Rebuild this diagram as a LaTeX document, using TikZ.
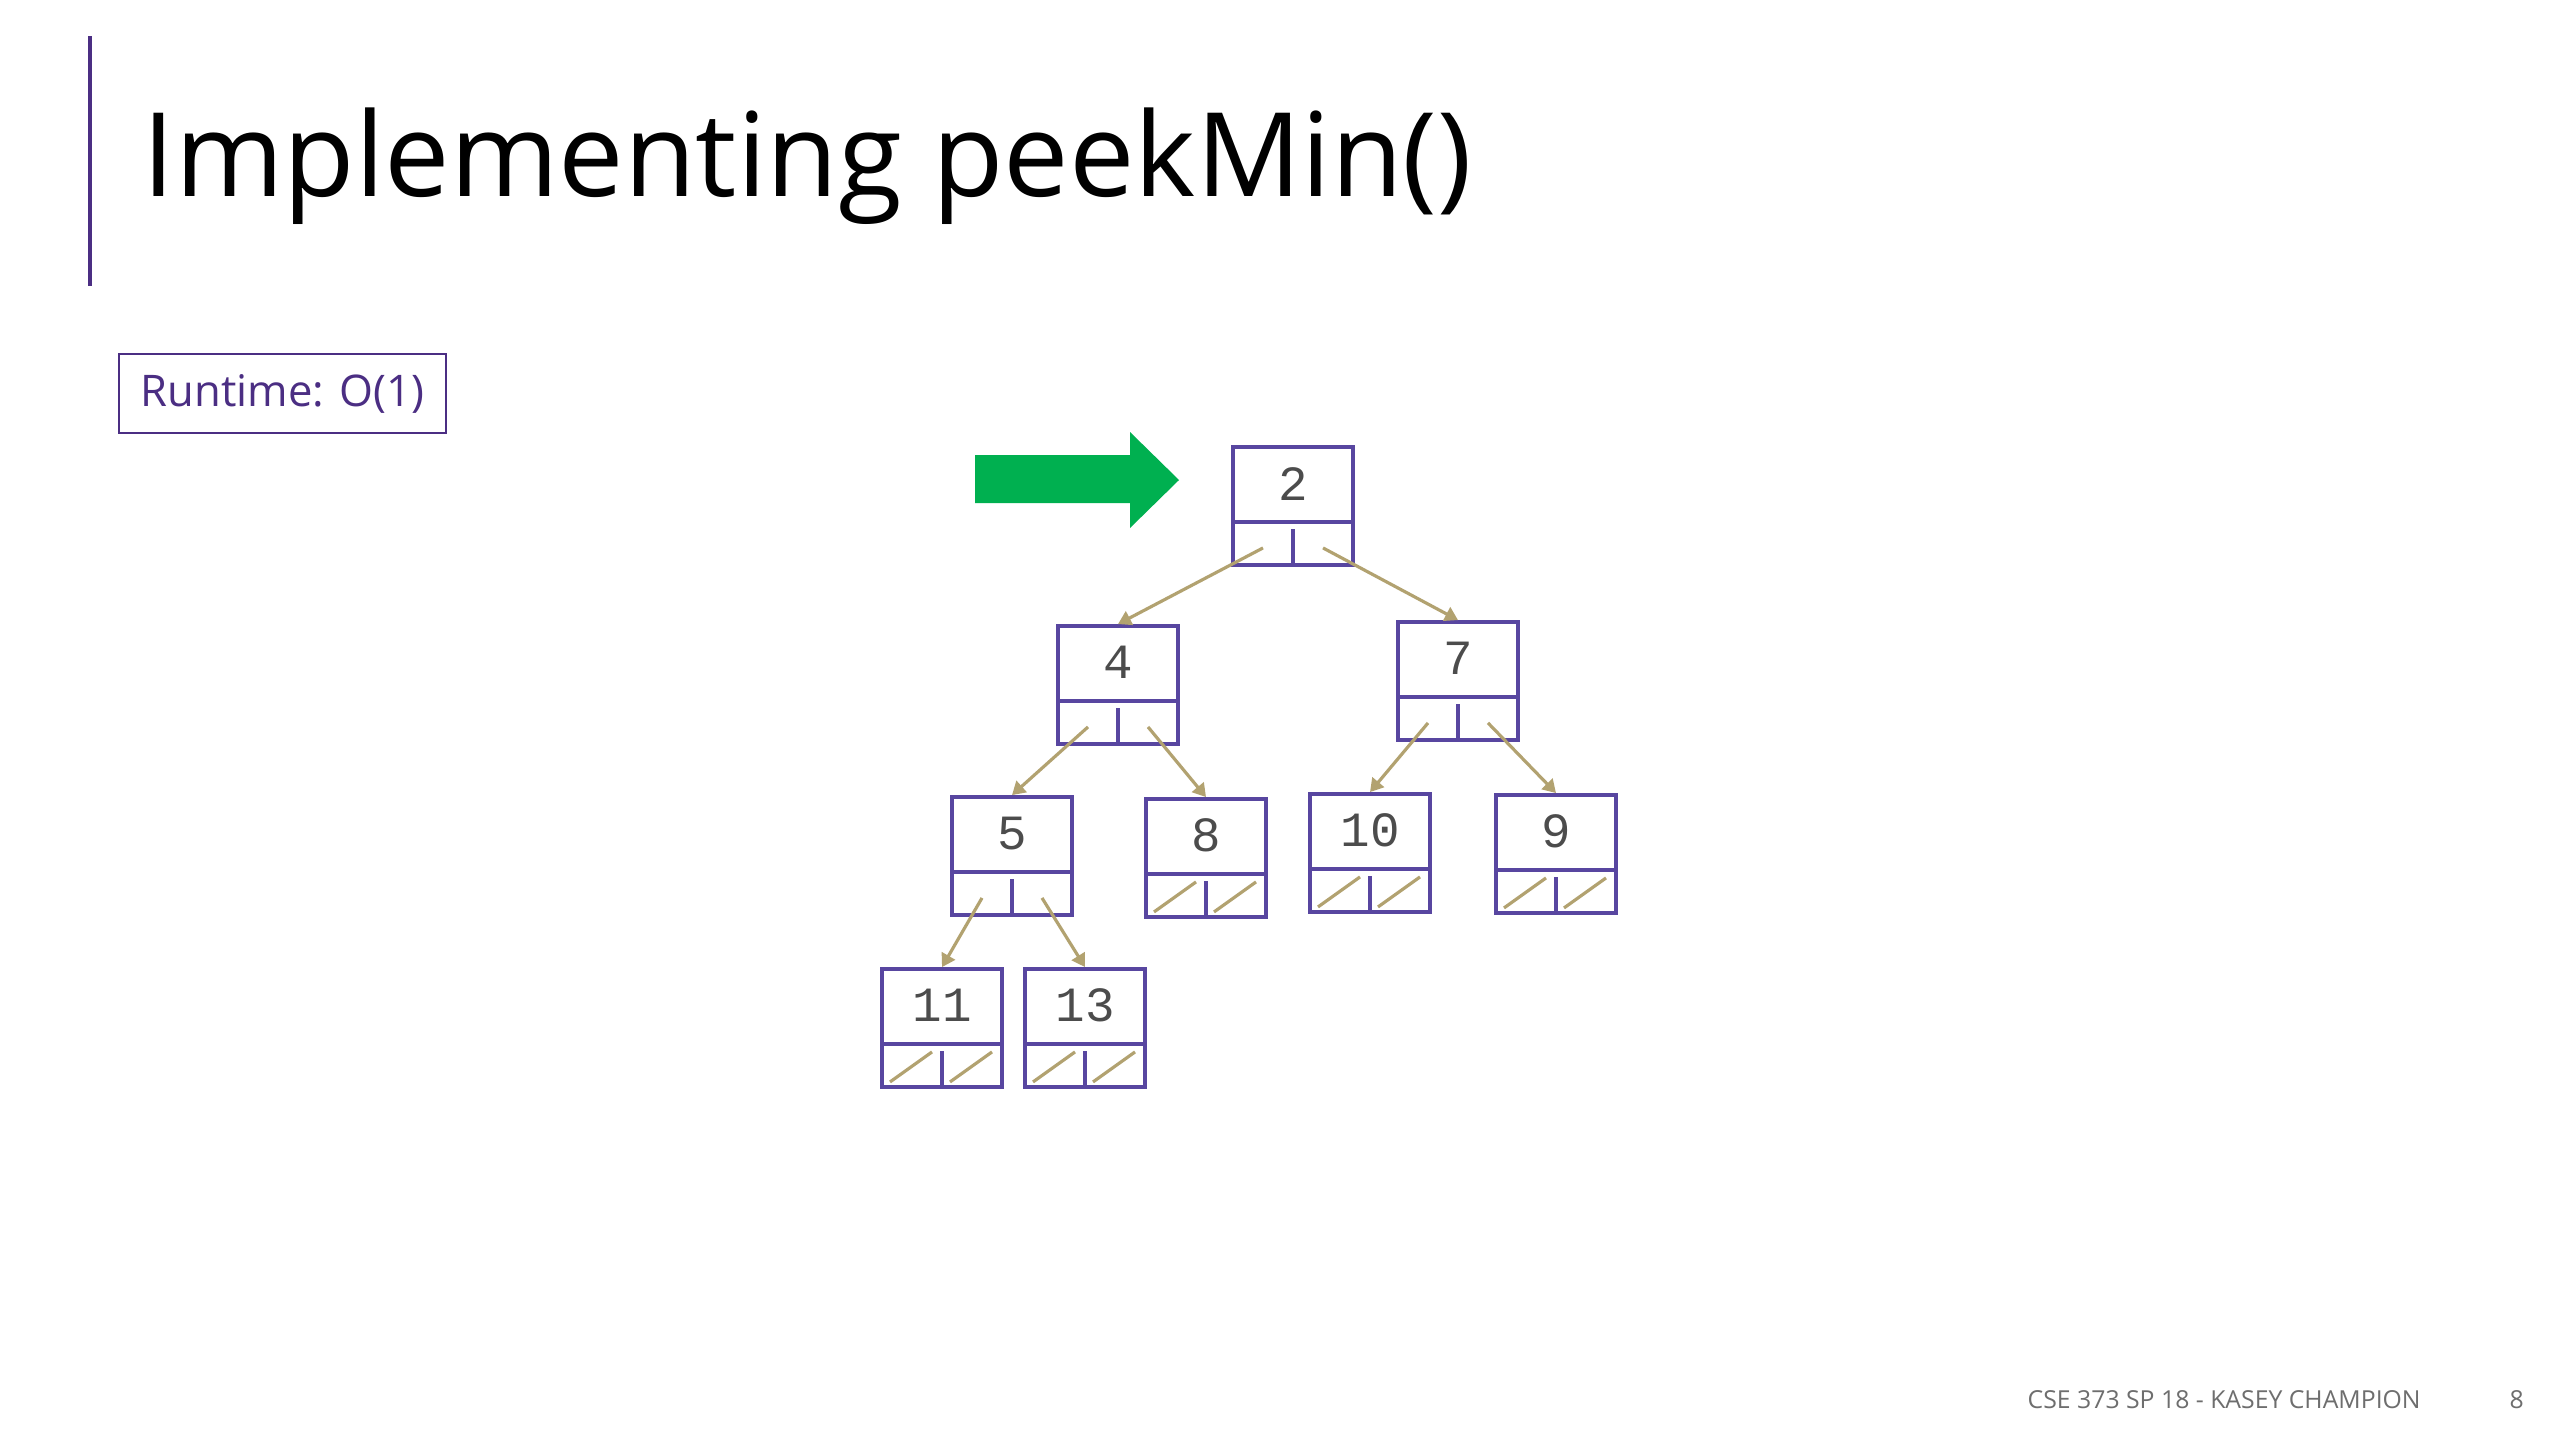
\documentclass[tikz,border=0pt]{standalone}
\usepackage{fontspec}
\setmainfont{Open Sans}
\setmonofont{Liberation Mono}
\usepackage{xcolor}
\usetikzlibrary{arrows.meta,positioning}

\definecolor{uwpurple}{RGB}{75,46,131}
\definecolor{boxpurple}{RGB}{88,70,160}
\definecolor{ptrtan}{RGB}{178,162,112}
\definecolor{arrgreen}{RGB}{0,176,80}
\definecolor{footgray}{RGB}{110,110,110}

\tikzset{
  heap/.style={draw=boxpurple,line width=1.1pt,minimum width=1.2cm,minimum height=1.18cm,inner sep=0pt},
  key/.style={inner sep=0pt,font=\ttfamily\fontsize{14}{14}\selectfont,text=black!70},
  divider/.style={boxpurple,line width=0.9pt},
  ptr/.style={ptrtan,line width=0.9pt,-{Triangle[width=0.15cm,length=0.13cm]}},
  nullptr/.style={ptrtan,line width=0.9pt}
}
\newcommand{\heapnode}[4]{%
  \node[heap] (#1) at (#2,#3) {};
  \node[key] (#1-key) at ([yshift=-0.385cm]#1.north) {#4};
  \draw[divider] ([yshift=0.45cm]#1.south west)--([yshift=0.45cm]#1.south east)
    (#1.south)--([yshift=0.38cm]#1.south);
  \coordinate (#1-l) at ([xshift=-0.3cm,yshift=0.19cm]#1.south);
  \coordinate (#1-r) at ([xshift=0.3cm,yshift=0.19cm]#1.south);
}
\newcommand{\nullptrs}[1]{%
  \draw[nullptr] ([xshift=-0.52cm,yshift=0.07cm]#1.south)--([xshift=-0.1cm,yshift=0.37cm]#1.south)
    ([xshift=0.08cm,yshift=0.07cm]#1.south)--([xshift=0.5cm,yshift=0.37cm]#1.south);
}

\begin{document}
\begin{tikzpicture}[>=Stealth]
\useasboundingbox[fill=white](0,0) rectangle (25.6,-14.4);
% title
\draw[uwpurple,line width=1.1pt](0.9,-0.36)--(0.9,-2.86);
\node[anchor=base west,inner sep=0pt,font=\fontsize{33.2}{33.2}\selectfont](title) at (1.42,-1.96){Implementing peekMin()};
\node[draw=uwpurple,line width=0.6pt,minimum width=3.27cm,minimum height=0.79cm,inner sep=0pt,
  text=uwpurple,font=\fontsize{12.4}{12.4}\selectfont](runtime) at (2.825,-3.935){Runtime: O(1)};
% green arrow at the root
\fill[arrgreen](9.75,-4.55)--(11.30,-4.55)--(11.30,-4.32)--(11.79,-4.80)
  --(11.30,-5.28)--(11.30,-5.03)--(9.75,-5.03)--cycle;
% heap
\heapnode{n2}{12.93}{-5.06}{2}
\heapnode{n4}{11.18}{-6.85}{4}
\heapnode{n7}{14.58}{-6.81}{7}
\heapnode{n5}{10.12}{-8.56}{5}
\heapnode{n8}{12.06}{-8.58}{8}
\heapnode{n10}{13.70}{-8.53}{10}
\heapnode{n9}{15.56}{-8.54}{9}
\heapnode{n11}{9.42}{-10.28}{11}
\heapnode{n13}{10.85}{-10.28}{13}
\draw[ptr](n2-l)--(n4.north);
\draw[ptr](n2-r)--(n7.north);
\draw[ptr](n4-l)--(n5.north);
\draw[ptr](n4-r)--(n8.north);
\draw[ptr](n7-l)--(n10.north);
\draw[ptr](n7-r)--(n9.north);
\draw[ptr](n5-l)--(n11.north);
\draw[ptr](n5-r)--(n13.north);
\nullptrs{n8}
\nullptrs{n10}
\nullptrs{n9}
\nullptrs{n11}
\nullptrs{n13}
% footer
\node[anchor=base west,inner sep=0pt,text=footgray,font=\fontsize{7.05}{7.05}\selectfont](footer) at (20.27,-14.08){CSE 373 SP 18 - KASEY CHAMPION};
\node[anchor=base west,inner sep=0pt,text=footgray,font=\fontsize{7.05}{7.05}\selectfont](page) at (25.09,-14.08){8};
\end{tikzpicture}
\end{document}
